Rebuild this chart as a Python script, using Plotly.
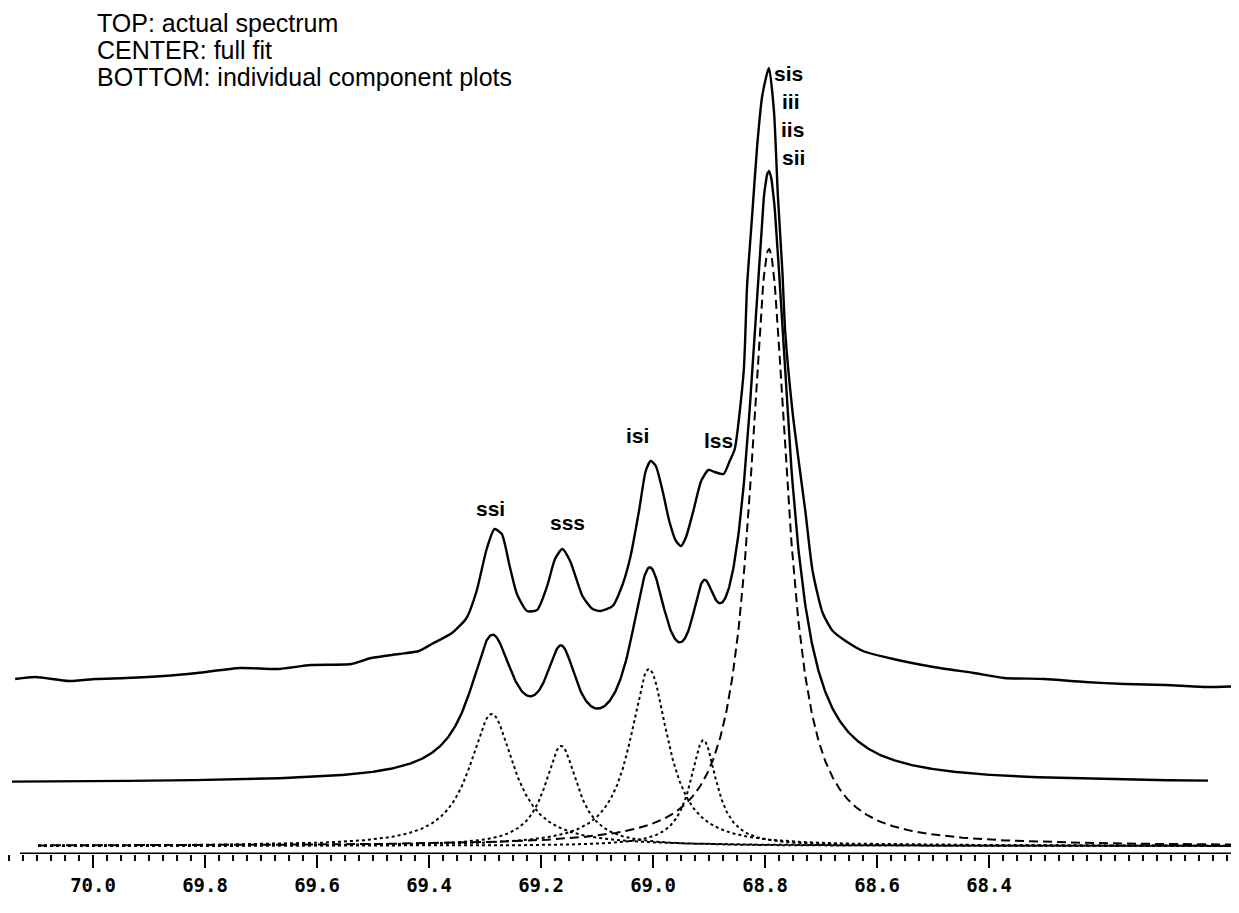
import numpy as np
import plotly.graph_objects as go

# ---------------- data ----------------
# fitted component peaks (Lorentzian): position (ppm), height, half width (ppm)
comp_names = ["ssi", "sss", "isi", "lss", "sis/iii/iis/sii"]
comp_ppm = [69.288, 69.164, 69.007, 68.910, 68.793]
comp_height = [132, 100, 177, 106, 597]
comp_hwhm = [0.0486, 0.0360, 0.0414, 0.0288, 0.0410]

# actual (measured) spectrum, sampled from the top trace
spec_ppm = [70.139, 70.103, 70.043, 69.995, 69.941, 69.874, 69.814, 69.737, 69.670,
            69.611, 69.539, 69.503, 69.454, 69.418, 69.395, 69.359, 69.333, 69.315,
            69.297, 69.283, 69.270, 69.256, 69.243, 69.225, 69.207, 69.189, 69.175,
            69.162, 69.148, 69.126, 69.108, 69.094, 69.072, 69.054, 69.040, 69.025,
            69.013, 69.004, 68.995, 68.982, 68.971, 68.959, 68.950, 68.941, 68.928,
            68.914, 68.901, 68.890, 68.874, 68.863, 68.854, 68.838, 68.832, 68.823,
            68.814, 68.805, 68.793, 68.784, 68.777, 68.769, 68.764, 68.751, 68.741,
            68.728, 68.715, 68.697, 68.679, 68.656, 68.625, 68.571, 68.499, 68.427,
            68.373, 68.301, 68.229, 68.157, 68.085, 68.013, 67.942]
spec_int = [2, 4, 0, 2, 3, 5, 8, 13, 12,
            16, 17, 23, 27, 30, 37, 48, 63, 90,
            132, 152, 147, 115, 87, 70, 71, 95, 122,
            132, 120, 85, 72, 70, 75, 97, 125, 170,
            210, 220, 215, 188, 160, 140, 135, 144, 170,
            200, 211, 209, 207, 220, 232, 310, 395, 465,
            535, 585, 613, 570, 485, 410, 350, 270, 225,
            170, 110, 68, 50, 40, 30, 22, 14, 8,
            3, 2, -1, -3, -4, -6, -5]

tick_vals = [70.0, 69.8, 69.6, 69.4, 69.2, 69.0, 68.8, 68.6, 68.4]
tick_text = ["70.0", "69.8", "69.6", "69.4", "69.2", "69.0", "68.8", "68.6", "68.4"]

title_lines = ["TOP: actual spectrum", "CENTER: full fit", "BOTTOM: individual component plots"]
peak_labels = ["ssi", "sss", "isi", "lss"]
stack_labels = ["sis", "iii", "iis", "sii"]

# ---------------- layout constants ----------------
W, H = 1239, 913
ML, MR, MT, MB = 0, 0, 0, 67
PX_PER_PPM = 560.0
X0_PX = 85            # pixel of 70.0 ppm
X_LEFT = 70.0 + (X0_PX - ML) / PX_PER_PPM
X_RIGHT = X_LEFT - (W - ML - MR) / PX_PER_PPM
Y_TOP = H - MB - MT   # plot height in px (y data in px above the axis)

TOP_BASE = 173    # vertical offset of the measured spectrum
FIT_BASE = 71     # vertical offset of the full fit
COMP_BASE = 8     # vertical offset of the components


def ppm_at(px):
    return 70.0 - (px - X0_PX) / PX_PER_PPM


def lorentz(x, x0, h, g):
    return h / (1.0 + ((x - x0) / g) ** 2)


x_fit = np.linspace(ppm_at(4), ppm_at(1200), 1600)
x_comp = np.linspace(ppm_at(30), X_RIGHT, 1600)

fig = go.Figure()

# components
for i, name in enumerate(comp_names):
    y = COMP_BASE + lorentz(x_comp, comp_ppm[i], comp_height[i], comp_hwhm[i])
    fig.add_trace(go.Scatter(
        x=x_comp, y=y, mode="lines", name=name,
        line=dict(color="black", width=2,
                  dash="9px,5px" if i == len(comp_names) - 1 else "dot"),
        hoverinfo="skip"))

# full fit
fit = np.zeros_like(x_fit)
for i in range(len(comp_names)):
    fit += lorentz(x_fit, comp_ppm[i], comp_height[i], comp_hwhm[i])
fig.add_trace(go.Scatter(x=x_fit, y=FIT_BASE + fit, mode="lines", name="full fit",
                         line=dict(color="black", width=2.4), hoverinfo="skip"))

# actual spectrum
fig.add_trace(go.Scatter(x=spec_ppm, y=[TOP_BASE + v for v in spec_int], mode="lines",
                         name="actual spectrum",
                         line=dict(color="black", width=2.4, shape="spline", smoothing=0.6),
                         hoverinfo="skip"))

annotations = []
title_y_px = [15, 42, 69]
for t, ypx in zip(title_lines, title_y_px):
    annotations.append(dict(x=ppm_at(88), y=Y_TOP - ypx, xref="x", yref="y", text=t,
                            showarrow=False, xanchor="left", yanchor="middle", borderpad=0,
                            font=dict(family="Liberation Sans, Arial", size=25, color="black")))

peak_px = [(482, 500), (559, 514), (629, 427), (710, 432)]
for t, (xp, yp) in zip(peak_labels, peak_px):
    annotations.append(dict(x=ppm_at(xp), y=Y_TOP - yp, xref="x", yref="y", text="<b>%s</b>" % t,
                            showarrow=False, xanchor="center", yanchor="middle",
                            font=dict(family="Liberation Sans, Arial", size=21, color="black")))

stack_px = [(780, 65), (783, 93), (784, 121), (785, 149)]
for t, (xp, yp) in zip(stack_labels, stack_px):
    annotations.append(dict(x=ppm_at(xp), y=Y_TOP - yp, xref="x", yref="y", text="<b>%s</b>" % t,
                            showarrow=False, xanchor="center", yanchor="middle",
                            font=dict(family="Liberation Sans, Arial", size=21, color="black")))

fig.update_layout(
    width=W, height=H,
    margin=dict(l=ML, r=MR, t=MT, b=MB, autoexpand=False),
    paper_bgcolor="white", plot_bgcolor="white",
    showlegend=False,
    annotations=annotations,
    shapes=[dict(type="line", xref="x", yref="y", x0=ppm_at(12), x1=X_RIGHT, y0=0, y1=0,
                 line=dict(color="black", width=3))],
    xaxis=dict(range=[X_LEFT, X_RIGHT], showgrid=False, zeroline=False, showline=False,
               tickmode="array", tickvals=tick_vals, ticktext=tick_text,
               ticks="outside", ticklen=13, tickwidth=2, tickcolor="black",
               minor=dict(tickmode="linear", tick0=70.0, dtick=0.025, ticks="outside",
                          ticklen=6, tickwidth=1.5, tickcolor="black", showgrid=False),
               tickfont=dict(family="DejaVu Sans Mono", size=19, color="black", weight="bold"),
               ticklabelstandoff=1),
    yaxis=dict(range=[0, Y_TOP], visible=False, showgrid=False, zeroline=False),
)

fig.write_html("out.html")
